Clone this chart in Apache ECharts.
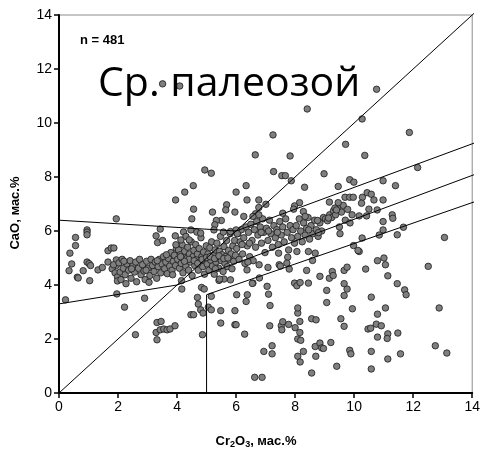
<!DOCTYPE html>
<html><head><meta charset="utf-8">
<script src="https://cdn.jsdelivr.net/npm/echarts@6/dist/echarts.min.js"></script>
<style>html,body{margin:0;padding:0;background:#fff}#c{width:483px;height:449px}</style>
</head><body><div id="c"></div>
<script>
// Axis ticks
const axisMin = 0, axisMax = 14, axisStep = 2;

// Texts
const titleText = 'Ср. палеозой';
const countText = 'n = 481';

// Reference lines (Cr2O3, CaO)
const diagLine  = [[0,0],[14.1,14.1]];
const upperLine = [[0,6.4],[6,6.0],[14.1,9.27]];
const midLine   = [[0,3.3],[4,4.0],[14.1,8.1]];
const lowLine   = [[5,0],[5,3.64],[14.1,7.09]];

// Points: [Cr2O3, CaO]
const leftPts = [[0.22,3.45],[0.37,5.18],[0.43,4.78],[0.34,4.53],[0.56,5.76],[0.56,5.46],[0.62,4.29],[0.65,4.26],[0.82,4.53],[0.95,6.04],[0.95,5.96],[0.95,5.86],[0.95,4.85],[1.02,4.79],[1.07,4.72],[1.04,4.16],[1.32,4.56],[1.47,4.65],[1.66,4.85],[1.66,5.27],[1.77,5.37],[1.86,5.37],[1.94,6.45],[1.96,3.67],[1.94,4.93],[1.94,4.72],[1.8,4.6],[1.85,4.75],[1.9,4.45],[1.98,4.3],[1.98,4.15]];

const bandLow = [[2.03,4.82],[2.07,4.48],[2.1,4.2],[2.14,4.95],[2.18,4.62],[2.24,4.38],[2.27,4.05],[2.3,4.78],[2.36,4.55],[2.41,4.9],[2.44,4.25],[2.5,4.7],[2.56,4.48],[2.6,4.85],[2.63,4.12],[2.69,4.62],[2.73,4.95],[2.78,4.38],[2.83,4.75],[2.88,4.52],[2.92,4.2],[2.97,4.88],[3.02,4.62],[3.08,4.35],[3.12,4.95],[3.17,4.72],[3.22,4.5],[3.26,4.85],[3.31,4.25],[3.36,4.68],[3.4,4.95],[3.45,4.45],[3.49,4.78],[3.54,5.05],[3.58,4.6],[3.62,4.85],[3.67,4.42],[3.71,4.98],[3.75,4.7],[3.79,5.2],[3.83,4.55],[3.87,4.88],[3.91,5.1],[3.95,4.72],[3.98,5.35],[2.95,4.55],[3.33,4.9],[3.64,5.12],[2.46,4.6],[2.2,4.88],[3.05,4.1],[3.85,4.38]];

const bandMid = [[4.02,4.95],[4.05,5.3],[4.08,4.62],[4.11,5.12],[4.14,4.8],[4.17,5.5],[4.2,4.45],[4.23,5.02],[4.26,5.25],[4.3,4.7],[4.33,4.98],[4.36,5.4],[4.39,4.55],[4.42,5.15],[4.45,4.85],[4.48,5.6],[4.51,4.35],[4.54,5.05],[4.57,5.28],[4.6,4.72],[4.63,5.5],[4.66,4.95],[4.69,5.15],[4.72,4.55],[4.75,5.35],[4.78,4.85],[4.81,5.75],[4.84,5.05],[4.87,4.68],[4.9,5.22],[4.93,4.4],[4.96,4.98],[4.99,5.45],
[5.02,4.78],[5.05,5.15],[5.08,4.55],[5.11,5.38],[5.14,4.92],[5.17,5.6],[5.2,4.7],[5.23,5.1],[5.26,4.4],[5.29,5.3],[5.32,4.85],[5.35,5.55],[5.38,5.0],[5.41,4.62],[5.44,5.25],[5.47,5.8],[5.5,4.9],[5.53,5.12],[5.56,4.5],[5.59,5.42],[5.62,4.8],[5.65,5.05],[5.68,5.65],[5.71,4.68],[5.74,5.28],[5.77,4.95],[5.8,5.9],[5.83,5.15],[5.86,4.6],[5.89,5.45],[5.92,4.88],[5.95,5.65],[5.98,5.1],
[4.4,4.95],[4.58,4.9],[4.7,4.8],[4.85,4.95],[5.0,5.02],[5.12,5.05],[5.27,4.98],[5.42,5.08],[5.58,4.98],[5.72,5.0],[4.25,4.88],[4.12,5.05],[5.3,4.6]];

const bandHigh = [[6.02,5.35],[6.06,5.9],[6.1,4.95],[6.14,5.6],[6.18,6.05],[6.22,5.15],[6.26,5.75],[6.3,4.8],[6.34,6.15],[6.38,5.45],[6.42,5.95],[6.46,5.05],[6.5,6.25],[6.54,5.65],[6.58,4.9],[6.62,6.05],[6.66,5.4],[6.7,6.35],[6.74,5.85],[6.78,4.75],[6.82,6.15],[6.86,5.55],[6.9,6.45],[6.94,5.95],[6.98,5.2],
[7.03,6.1],[7.08,5.65],[7.13,6.4],[7.18,5.9],[7.23,5.4],[7.28,6.2],[7.33,5.75],[7.38,6.05],[7.43,5.5],[7.48,6.35],[7.53,5.85],[7.58,6.15],[7.63,5.6],[7.68,6.45],[7.73,5.95],[7.78,5.3],[7.83,6.2],[7.88,5.75],[7.93,6.05],[7.98,5.55],
[8.04,6.2],[8.09,5.8],[8.14,6.45],[8.19,6.0],[8.24,5.6],[8.29,6.3],[8.34,5.85],[8.39,6.1],[8.44,6.5],[8.49,5.7],[8.54,6.2],[8.6,5.9],[8.66,6.4],[8.72,6.05],[8.78,5.8],[8.84,6.3],[8.9,6.0],[8.96,6.5],
[9.03,6.45],[9.1,6.38],[9.17,6.6],[9.24,6.5],[9.3,6.75],[9.37,6.6],[9.44,6.85],[9.5,6.15],[9.52,5.9],[9.57,6.7],[9.63,6.95],[9.7,6.4],[9.78,6.8],[9.86,6.3],[9.93,6.6],
[6.2,5.5],[6.45,5.55],[6.85,5.95],[7.1,6.0],[7.4,5.95]];

const upperPts = [[3.51,11.45],[4.09,11.37],[10.76,11.25],[8.41,10.52],[10.27,10.15],[7.25,9.56],[11.87,9.65],[9.71,9.21],[6.65,8.82],[7.83,8.78],[10.36,8.8],[4.94,8.26],[5.16,8.14],[7.27,8.2],[7.55,8.05],[7.67,8.05],[12.15,8.35],[8.98,8.12],[7.87,7.86],[9.85,7.9],[9.99,7.81],[10.98,7.86],[3.95,7.15],[4.26,7.44],[4.55,7.68],[6.0,7.44],[6.34,7.68],[6.37,7.15],[6.77,7.15],[7.01,6.99],[8.32,7.62],[9.46,7.65],[11.4,7.68],[9.16,7.07],[9.69,7.25],[9.85,7.25],[9.97,7.25],[10.28,7.25],[10.44,7.42],[10.58,7.36],[10.67,7.15],[10.98,7.15],[10.25,7.03],[9.46,7.05],[8.15,7.05],[7.98,6.93],[7.95,6.81],[7.58,6.66],[8.28,6.72],[8.34,6.54],[9.35,6.85],[9.4,6.78],[10.5,6.81],[10.78,6.78],[10.17,6.56],[10.42,6.56],[11.29,6.6],[11.31,6.47],[4.56,6.81],[4.5,6.45],[5.2,6.7],[5.68,6.97],[5.65,6.78],[5.96,6.7],[6.77,6.87],[6.66,6.64],[6.77,6.6],[6.26,6.54],[6.57,6.54],[5.5,6.39],[5.33,6.39],[5.28,6.23],[5.25,6.04],[5.57,5.96],[5.81,5.98],[6.0,6.04],[6.04,5.9],[3.29,5.82],[3.43,6.07],[3.34,5.57],[3.51,5.65],[4.22,5.96],[3.94,5.82],[4.47,6.04],[4.3,5.8],[3.96,5.49],[4.13,5.67],[4.41,5.67],[4.67,5.96],[4.8,5.92],[10.98,6.35],[10.98,6.04],[10.85,5.85],[11.46,5.86],[11.67,6.14],[10.27,5.74],[9.98,5.46],[10.17,5.24],[13.06,5.76],[8.79,5.94],[8.46,6.04],[8.76,6.39],[9.13,6.48]];

const lowerPts = [[2.22,3.18],[2.9,3.51],[2.59,2.16],[3.32,2.61],[3.46,2.65],[3.29,2.24],[3.32,1.97],[3.43,2.34],[3.55,2.37],[3.66,2.34],[3.76,2.37],[3.93,2.49],[4.15,4.16],[4.16,3.85],[4.83,3.91],[4.92,3.85],[4.69,3.54],[4.72,3.29],[4.8,3.08],[4.88,2.96],[4.47,2.9],[4.56,2.9],[4.86,2.16],[5.06,3.18],[5.16,3.58],[5.16,3.08],[5.48,3.05],[5.48,2.59],[5.96,3.05],[5.96,2.53],[6.0,2.53],[6.29,2.18],[6.34,3.39],[6.02,3.64],[6.38,3.64],[5.42,4.17],[5.81,4.19],[5.59,4.22],[5.44,4.22],[6.57,4.07],[6.79,4.26],[6.37,4.56],[6.63,0.58],[6.88,0.58],[6.94,1.54],[7.22,1.45],[7.22,1.75],[7.14,2.49],[7.05,3.95],[7.1,3.66],[7.15,3.24],[7.53,2.49],[7.55,2.34],[7.58,2.64],[7.78,2.54],[8.0,2.42],[8.09,2.96],[8.09,3.15],[8.16,2.65],[8.16,2.24],[8.09,2.0],[8.19,1.95],[8.09,1.36],[8.17,1.15],[8.28,1.54],[8.56,0.74],[8.56,2.75],[8.71,2.71],[8.68,1.72],[8.7,1.36],[8.84,1.85],[8.9,1.67],[8.96,1.65],[9.21,1.87],[9.41,0.99],[9.55,2.75],[9.66,2.47],[9.85,1.58],[9.89,1.45],[9.94,3.12],[9.66,3.61],[9.76,3.85],[9.66,4.05],[9.66,4.54],[9.76,4.66],[10.39,4.59],[10.47,2.37],[10.56,2.4],[10.58,3.55],[10.58,1.54],[10.58,0.89],[10.79,4.9],[10.79,2.92],[10.75,2.55],[10.92,2.49],[10.79,2.07],[11.06,3.15],[11.01,5.0],[11.06,4.75],[11.14,4.34],[11.14,2.19],[11.12,2.02],[11.14,1.26],[11.46,4.05],[11.48,2.22],[11.57,1.45],[11.71,3.82],[11.76,3.64],[12.51,4.69],[12.88,3.15],[12.75,1.75],[13.14,1.48],[8.39,4.54],[8.45,4.07],[8.84,4.32],[9.07,3.8],[9.07,3.35],[9.16,4.25],[9.26,4.5],[9.29,4.35],[8.06,5.24],[7.98,4.07],[8.06,3.97],[8.17,4.09],[7.75,5.03],[7.72,4.81],[7.8,4.59],[7.44,5.18],[7.46,4.75],[8.68,5.18],[8.45,5.24],[8.59,4.91],[10.13,5.28],[6.55,4.06],[6.4,4.85],[7.5,4.7],[7.08,4.65]];

const allPts = [].concat(leftPts, bandLow, bandMid, bandHigh, upperPts, lowerPts);

const chart = echarts.init(document.getElementById('c'), null, {renderer:'canvas'});
const lineStyle = {color:'#000', width:1};
function refLine(d){ return {type:'line', data:d, symbol:'none', clip:false, silent:true, z:4, lineStyle:lineStyle, animation:false}; }
const valueAxis = {
  type:'value', min:axisMin, max:axisMax, interval:axisStep,
  axisLine:{show:true, lineStyle:{color:'#000', width:2}},
  axisTick:{show:true, inside:false, length:5, lineStyle:{color:'#000', width:1.5}},
  axisLabel:{color:'#000', fontSize:14, fontFamily:'Liberation Sans, Arial, sans-serif', margin:7},
  splitLine:{show:false}
};
chart.setOption({
  animation:false,
  backgroundColor:'#fff',
  grid:{left:59, right:8, top:15, bottom:56, show:true, borderColor:'#8c8c8c', borderWidth:1, backgroundColor:'transparent'},
  xAxis:Object.assign({}, valueAxis),
  yAxis:Object.assign({}, valueAxis),
  series:[
    {type:'scatter', data:allPts, symbol:'circle', symbolSize:6.5, z:3,
     itemStyle:{color:'#7f7f7f', borderColor:'#1a1a1a', borderWidth:0.8, opacity:1}},
    refLine(diagLine), refLine(upperLine), refLine(midLine), refLine(lowLine)
  ],
  graphic:[
    {type:'text', x:98, y:84, z:100, style:{text:titleText, font:'41px "Open Sans", sans-serif', fill:'#000', align:'left', verticalAlign:'middle'}},
    {type:'text', x:80, y:40, z:100, style:{text:countText, font:'bold 13px "Liberation Sans", Arial, sans-serif', fill:'#000', align:'left', verticalAlign:'middle'}},
    {type:'text', x:15, y:213, rotation:Math.PI/2, z:100, style:{text:'CaO, мас.%', font:'bold 13px "Liberation Sans", Arial, sans-serif', fill:'#000', align:'center', verticalAlign:'middle'}},
    {type:'text', x:256, y:441, z:100, style:{
      text:'{a|Cr}{s|2}{a|O}{s|3}{a|, мас.%}', align:'center', verticalAlign:'middle',
      rich:{
        a:{font:'bold 13px "Liberation Sans", Arial, sans-serif', fill:'#000', lineHeight:17, verticalAlign:'middle'},
        s:{font:'bold 9px "Liberation Sans", Arial, sans-serif', fill:'#000', lineHeight:17, verticalAlign:'bottom'}
      }}}
  ]
});
</script>
</body></html>
